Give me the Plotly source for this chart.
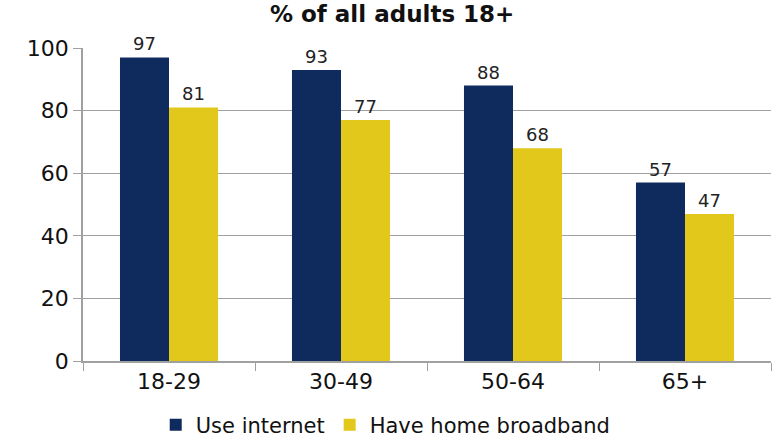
import plotly.graph_objects as go

categories = ["18-29", "30-49", "50-64", "65+"]
use_internet = [97, 93, 88, 57]
home_broadband = [81, 77, 68, 47]

navy = "#0F2A5C"
yellow = "#E1C81A"
font_family = "DejaVu Sans, Verdana, sans-serif"

fig = go.Figure()
fig.add_trace(go.Bar(
    x=categories, y=use_internet, name="Use internet",
    marker=dict(color=navy, line=dict(width=0)),
    text=use_internet, textposition="outside",
    textfont=dict(size=18, color="#222222"), cliponaxis=False,
))
fig.add_trace(go.Bar(
    x=categories, y=home_broadband, name="Have home broadband",
    marker=dict(color=yellow, line=dict(width=0)),
    text=home_broadband, textposition="outside",
    textfont=dict(size=18, color="#222222"), cliponaxis=False,
))

fig.update_layout(
    width=772, height=439,
    margin=dict(l=83, r=1, t=48, b=78, autoexpand=False),
    paper_bgcolor="white", plot_bgcolor="white",
    font=dict(family=font_family, color="#111111"),
    barmode="group", bargap=0.43, bargroupgap=0,
    title=dict(text="<b>% of all adults 18+</b>", x=0.508, xanchor="center",
               y=0.968, yanchor="middle", font=dict(size=23, color="#111111")),
    showlegend=True,
    legend=dict(orientation="h", x=0.44, xanchor="center", y=-0.205, yanchor="middle",
                font=dict(size=21), traceorder="normal"),
)
fig.update_xaxes(
    showline=True, linecolor="#A0A0A0", linewidth=1.5, automargin=False,
    ticks="outside", tickson="boundaries", ticklen=8, tickcolor="#A0A0A0",
    tickfont=dict(size=22), showgrid=False,
)
fig.update_yaxes(
    range=[0, 100], dtick=20, showline=True, linecolor="#A0A0A0", linewidth=1.5,
    ticks="outside", ticklen=8, tickcolor="#A0A0A0", automargin=False,
    showgrid=True, gridcolor="#A0A0A0", gridwidth=1.2,
    tickfont=dict(size=22), zeroline=False,
)

fig.write_html("out.html", config={"displayModeBar": False},
               post_script="document.body.style.margin='0';")
